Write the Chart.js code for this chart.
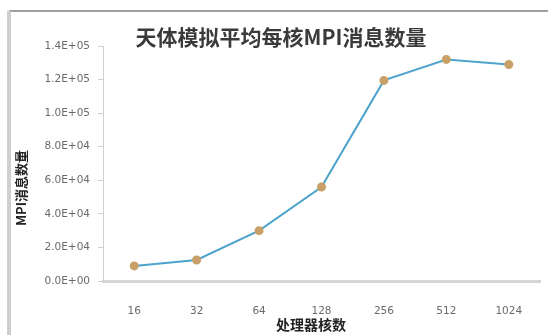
<!DOCTYPE html>
<html>
<head>
<meta charset="utf-8">
<script src="https://cdn.jsdelivr.net/npm/chart.js@4/dist/chart.umd.min.js"></script>
<style>
  html, body { margin: 0; padding: 0; background: #fff; }
  #wrap { width: 548px; height: 335px; position: relative; }
</style>
</head>
<body>
<div id="wrap"><canvas id="mpi-chart" width="548" height="335"></canvas></div>
<script>
var coreCounts = ['16', '32', '64', '128', '256', '512', '1024'];
var msgCounts = [9000, 12500, 30000, 56000, 119500, 132000, 129000];
var yTicks = [0, 20000, 40000, 60000, 80000, 100000, 120000, 140000];

var chartTitle = '天体模拟平均每核MPI消息数量';
var xTitle = '处理器核数';
var yTitle = 'MPI消息数量';

// Excel style scientific labels, e.g. 1.4E+05
function sci(v) {
    var s = Number(v).toExponential(1).toUpperCase();
    return s.replace(/E([+-])(\d)$/, 'E$10$2');
}

// frame lines, chart title and axis titles drawn straight on the canvas
var framePlugin = {
    id: 'frame',
    beforeDraw: function (chart) {
        var ctx = chart.ctx;
        ctx.save();
        ctx.fillStyle = '#a0a0a0';
        ctx.fillRect(9, 10, 539, 2);
        ctx.fillStyle = '#cfcfcf';
        ctx.fillRect(7, 11, 4, 324);
        ctx.restore();
    },
    afterDraw: function (chart) {
        var ctx = chart.ctx;
        ctx.save();
        ctx.textAlign = 'center';
        ctx.textBaseline = 'middle';

        ctx.font = 'bold 21px "Noto Sans CJK SC"';
        ctx.fillStyle = '#3a3a3a';
        ctx.fillText(chartTitle, 281, 37);

        ctx.font = 'bold 14px "Noto Sans CJK SC"';
        ctx.fillStyle = '#222';
        ctx.fillText(xTitle, 311, 325);

        ctx.translate(21, 188);
        ctx.rotate(-Math.PI / 2);
        ctx.font = 'bold 13px "Noto Sans CJK SC"';
        ctx.fillText(yTitle, 0, 0);
        ctx.restore();
    }
};

new Chart(document.getElementById('mpi-chart').getContext('2d'), {
    type: 'line',
    data: {
        labels: coreCounts,
        datasets: [{
            label: yTitle,
            data: msgCounts,
            borderColor: '#4ea3cc',
            borderWidth: 2,
            backgroundColor: '#c8a068',
            pointBackgroundColor: '#c8a068',
            pointBorderColor: '#c8a068',
            pointRadius: 3.5,
            tension: 0,
            fill: false
        }]
    },
    plugins: [framePlugin],
    options: {
        responsive: false,
        animation: false,
        layout: { padding: { left: 12, right: 8, top: 46, bottom: 0 } },
        plugins: {
            legend: { display: false },
            title: { display: false },
            tooltip: { enabled: false }
        },
        scales: {
            x: {
                offset: true,
                grid: { display: false },
                border: { color: '#d6d6d6', width: 3 },
                ticks: {
                    color: '#6a6a6a',
                    font: { family: 'DejaVu Sans', size: 10.5 },
                    padding: 16,
                    maxRotation: 0
                },
                afterFit: function (scale) { scale.height = 54; }
            },
            y: {
                min: 0,
                max: 140000,
                afterBuildTicks: function (scale) {
                    scale.ticks = yTicks.map(function (v) { return { value: v }; });
                },
                grid: {
                    drawOnChartArea: false,
                    color: '#cfcfcf',
                    tickLength: 5
                },
                border: { color: '#cfcfcf', width: 1 },
                ticks: {
                    color: '#6a6a6a',
                    font: { family: 'DejaVu Sans', size: 10.5 },
                    padding: 8,
                    callback: function (v) { return sci(v); }
                },
                afterFit: function (scale) { scale.width = 91; }
            }
        }
    }
});
</script>
</body>
</html>
